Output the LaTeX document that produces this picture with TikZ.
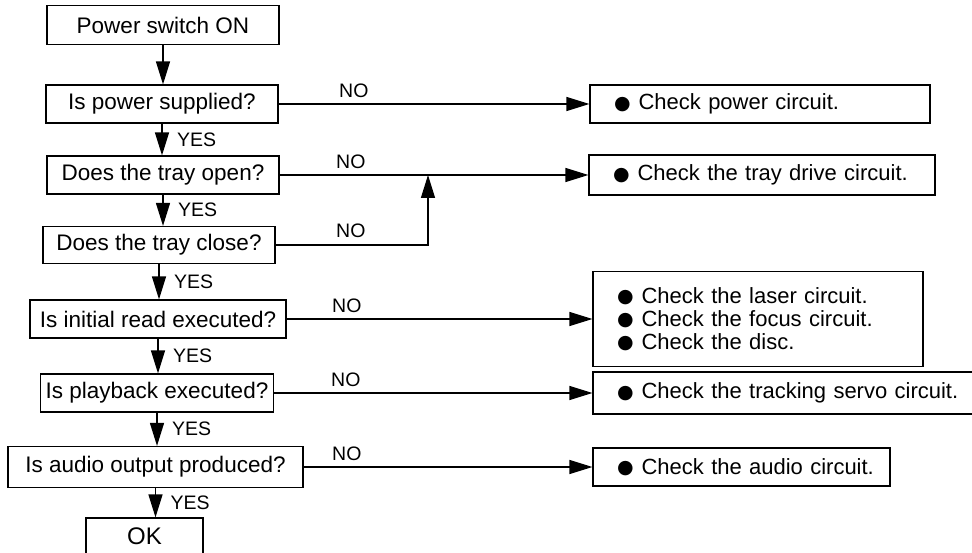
\documentclass[tikz,border=0pt]{standalone}
\usepackage{fontspec}
\setmainfont{Liberation Sans}
\newfontfamily\dejavu{DejaVu Sans}
\usetikzlibrary{arrows.meta,calc}
\newcommand{\bul}{\raisebox{0.5pt}{\dejavu\fontsize{19}{19}\selectfont ●}\hspace{8pt}}
\newcommand{\ck}[1]{\mbox{\bul #1}}
\begin{document}
\begin{tikzpicture}[x=1pt,y=-1pt,
  box/.style={draw, line width=1.2pt, inner sep=0pt, font=\fontsize{22.5}{26}\selectfont},
  rbox/.style={draw, line width=1.2pt, inner xsep=24pt, inner ysep=0pt, align=left, font=\fontsize{22}{23}\selectfont},
  arr/.style={line width=1.3pt, -{Triangle[length=23pt,width=14pt]}},
  lbl/.style={font=\fontsize{19.5}{22}\selectfont, inner sep=0pt},
]
\path[use as bounding box] (0,0) rectangle (972,553);
\clip (0,0) rectangle (972,553);

% left column
\node[box, minimum width=232pt, minimum height=39pt] (L0) at (163,25) {Power switch ON};
\node[box, minimum width=232pt, minimum height=38pt] (L1) at (162,104) {Is power supplied?};
\node[box, minimum width=232pt, minimum height=38pt] (L2) at (163,175) {Does the tray open?};
\node[box, minimum width=232pt, minimum height=37pt] (L3) at (159,245) {Does the tray close?};
\node[box, minimum width=256pt, minimum height=38pt] (L4) at (158,319) {Is initial read executed?};
\node[box, minimum width=233pt, minimum height=38pt] (L5) at (157,393) {Is playback executed?};
\node[box, minimum width=295pt, minimum height=41pt] (L6) at (155.5,467) {Is audio output produced?};
\node[box, minimum width=117pt, minimum height=36pt, font=\fontsize{24}{26}\selectfont] (OK) at (144.5,536) {OK};

% right column
\node[rbox, text width=292pt, minimum height=38pt] (R1) at (760,104) {\ck{Check power circuit.}};
\node[rbox, text width=298pt, minimum height=40pt] (R2) at (762,175) {\ck{Check the tray drive circuit.}};
\node[rbox, text width=282pt, minimum height=95pt] (R3) at (758,319) {\ck{Check the laser circuit.}\\\ck{Check the focus circuit.}\\\ck{Check the disc.}};
\node[rbox, text width=351pt, minimum height=42pt] (R4) at (792.5,393) {\ck{Check the tracking servo circuit.}};
\node[rbox, text width=249pt, minimum height=38pt] (R5) at (741.5,467) {\ck{Check the audio circuit.}};

% YES flow
\draw[arr] (L0.south) -- (L0.south |- L1.north);
\draw[arr] (L1.south) -- (L1.south |- L2.north);
\draw[arr] (L2.south) -- (L2.south |- L3.north);
\draw[arr] (L3.south) -- (L3.south |- L4.north);
\draw[arr] (L4.south) -- (L4.south |- L5.north);
\draw[arr] (L5.south) -- (L5.south |- L6.north);
\draw[arr] (L6.south) -- (L6.south |- OK.north);

\node[lbl, anchor=west] (Y1) at ($(L1.south)!0.5!(L1.south |- L2.north) + (15,0)$) {YES};
\node[lbl, anchor=west] (Y2) at ($(L2.south)!0.5!(L2.south |- L3.north) + (15,0)$) {YES};
\node[lbl, anchor=west] (Y3) at ($(L3.south)!0.5!(L3.south |- L4.north) + (15,0)$) {YES};
\node[lbl, anchor=west] (Y4) at ($(L4.south)!0.5!(L4.south |- L5.north) + (15,0)$) {YES};
\node[lbl, anchor=west] (Y5) at ($(L5.south)!0.5!(L5.south |- L6.north) + (15,0)$) {YES};
\node[lbl, anchor=west] (Y6) at ($(L6.south)!0.5!(L6.south |- OK.north) + (15,0)$) {YES};

% NO flow
\coordinate (J) at (428,175);
\draw[arr] (L1.east) -- (R1.west);
\draw[arr] (L2.east) -- (R2.west);
\draw[arr] (L3.east) -| (J);
\draw[arr] (L4.east) -- (R3.west);
\draw[arr] (L5.east) -- (R4.west);
\draw[arr] (L6.east) -- (R5.west);

\node[lbl, anchor=south west] (N1) at (339,98) {NO};
\node[lbl, anchor=south west] (N2) at (336,169) {NO};
\node[lbl, anchor=south west] (N3) at (336,238) {NO};
\node[lbl, anchor=south west] (N4) at (332,313) {NO};
\node[lbl, anchor=south west] (N5) at (331,387) {NO};
\node[lbl, anchor=south west] (N6) at (332,461) {NO};
\end{tikzpicture}
\end{document}
